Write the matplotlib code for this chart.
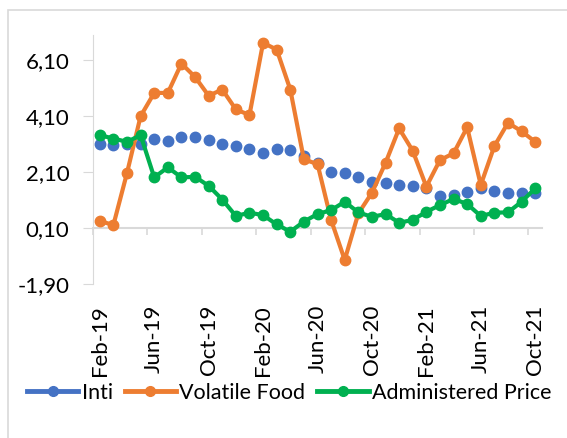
import numpy as np
import matplotlib
matplotlib.use('Agg')
import matplotlib.pyplot as plt
from matplotlib.lines import Line2D
from matplotlib.patches import Rectangle

# datos mensuales feb-19 .. oct-21
months = ['Feb-19', 'Mar-19', 'Apr-19', 'May-19', 'Jun-19', 'Jul-19', 'Aug-19', 'Sep-19',
          'Oct-19', 'Nov-19', 'Dec-19', 'Jan-20', 'Feb-20', 'Mar-20', 'Apr-20', 'May-20',
          'Jun-20', 'Jul-20', 'Aug-20', 'Sep-20', 'Oct-20', 'Nov-20', 'Dec-20', 'Jan-21',
          'Feb-21', 'Mar-21', 'Apr-21', 'May-21', 'Jun-21', 'Jul-21', 'Aug-21', 'Sep-21',
          'Oct-21']
inti = [3.09, 3.06, 3.10, 3.12, 3.28, 3.21, 3.36, 3.36, 3.24, 3.10, 3.05, 2.91, 2.79,
        2.91, 2.89, 2.67, 2.41, 2.09, 2.05, 1.91, 1.75, 1.70, 1.64, 1.60, 1.52, 1.24,
        1.27, 1.40, 1.52, 1.43, 1.34, 1.36, 1.34]
volatile = [0.35, 0.21, 2.07, 4.10, 4.93, 4.93, 5.98, 5.50, 4.83, 5.05, 4.34, 4.14,
            6.72, 6.48, 5.05, 2.55, 2.39, 0.39, -1.04, 0.62, 1.36, 2.43, 3.66, 2.86,
            1.58, 2.53, 2.77, 3.70, 1.64, 3.03, 3.86, 3.56, 3.18]
administered = [3.42, 3.30, 3.18, 3.42, 1.91, 2.27, 1.91, 1.93, 1.61, 1.12, 0.53, 0.65,
                0.56, 0.23, -0.03, 0.33, 0.60, 0.74, 1.04, 0.66, 0.50, 0.60, 0.29, 0.39,
                0.68, 0.92, 1.14, 0.96, 0.53, 0.65, 0.66, 1.04, 1.52]
yticks = [-1.9, 0.1, 2.1, 4.1, 6.1]

plt.rcParams['font.family'] = ['Lato', 'DejaVu Sans']
azul, naranja, verde, gris = '#4472C4', '#ED7D31', '#00B050', '#D9D9D9'

fig = plt.figure(figsize=(5.67, 4.38), dpi=100)
ax = fig.add_axes([93 / 567, 1 - 284 / 438, (542 - 93) / 567, (284 - 35) / 438])
x = np.arange(len(months))

ax.plot(x, inti, ls='none', marker='o', ms=7.5, color=azul, zorder=3)
ax.plot(x, volatile, '-o', lw=3, ms=7.5, color=naranja, zorder=4)
ax.plot(x, administered, '-o', lw=3, ms=7.5, color=verde, zorder=5)

ax.set_xlim(-0.5, len(months) - 0.5)
ax.set_ylim(-1.9, 7.0)
ax.set_yticks(yticks)
ax.set_yticklabels([('%.2f' % v).replace('.', ',') for v in yticks])
ax.tick_params(axis='y', length=7, color=gris, labelsize=16, pad=10)

# eje x cruzando en 0,10, etiquetas abajo
ax.spines['bottom'].set_position(('data', 0.1))
ax.set_xticks(np.arange(-0.5, len(months), 4))
ax.tick_params(axis='x', length=5, color=gris, labelbottom=False, width=1.2)
for s in ['top', 'right']:
    ax.spines[s].set_visible(False)
for s in ['left', 'bottom']:
    ax.spines[s].set_color(gris)
ax.spines['bottom'].set_linewidth(1.5)

sec = ax.secondary_xaxis('bottom')
sec.set_xticks(x[::4])
sec.set_xticklabels(months[::4], rotation=90, fontsize=16)
sec.tick_params(length=0, pad=15)
sec.spines['bottom'].set_visible(False)

handles = [Line2D([], [], color=c, lw=3.5, marker='o', ms=7) for c in (azul, naranja, verde)]
fig.legend(handles, ['Inti', 'Volatile Food', 'Administered Price'], loc='center',
           bbox_to_anchor=(0.51, 1 - 393 / 438), ncol=3, frameon=False, fontsize=15.5,
           handlelength=2.4, handletextpad=0.15, columnspacing=0.55)

fig.patches.append(Rectangle((8 / 567, -0.1), 1.2, 1.1 - 10 / 438, transform=fig.transFigure,
                             fill=False, edgecolor=gris, lw=1.2))

fig.savefig('out.png', dpi=100)
